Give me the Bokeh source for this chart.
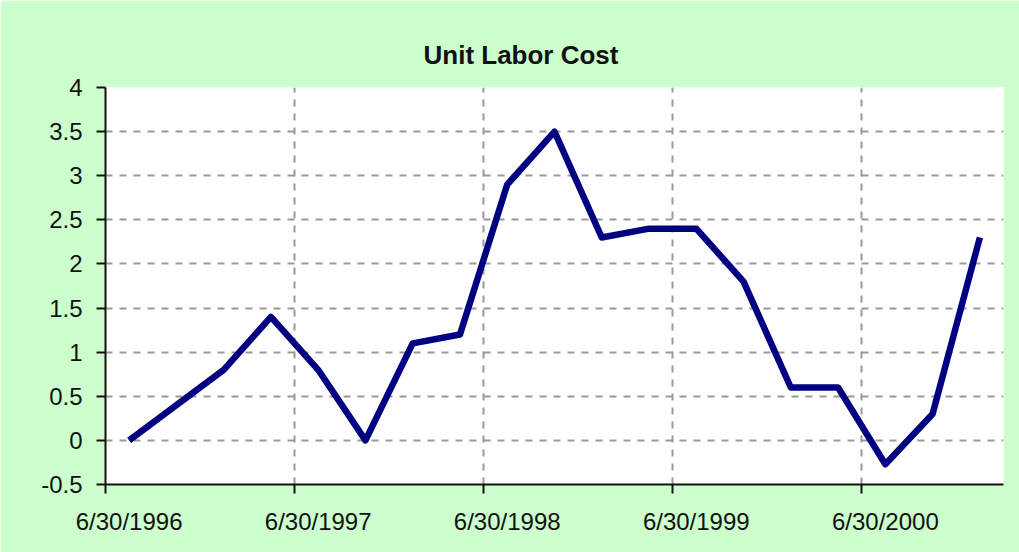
from bokeh.plotting import figure
from bokeh.models import Range1d, FixedTicker
from bokeh.embed import file_html
from bokeh.resources import INLINE
import numpy as np

# ---- data ----
quarters = ["6/30/1996", "9/30/1996", "12/31/1996",
            "3/31/1997", "6/30/1997", "9/30/1997", "12/31/1997",
            "3/31/1998", "6/30/1998", "9/30/1998", "12/31/1998",
            "3/31/1999", "6/30/1999", "9/30/1999", "12/31/1999",
            "3/31/2000", "6/30/2000", "9/30/2000", "12/31/2000"]
unit_labor_cost = [0.0, 0.4, 0.8, 1.4, 0.8, 0.0, 1.1, 1.2, 2.9, 3.5,
                   2.3, 2.4, 2.4, 1.8, 0.6, 0.6, -0.27, 0.3, 2.3]
y_ticks = [-0.5, 0, 0.5, 1, 1.5, 2, 2.5, 3, 3.5, 4]
y_tick_labels = ["-0.5", "0", "0.5", "1", "1.5", "2", "2.5", "3", "3.5", "4"]
title_text = "Unit Labor Cost"

n = len(quarters)
x = np.arange(n) + 0.5
label_idx = [i for i, q in enumerate(quarters) if q.startswith("6/30")]
label_pos = [i + 0.5 for i in label_idx]
boundary_pos = [float(i) for i in label_idx]

FONT = "Liberation Sans"
GRID = "#999999"

p = figure(width=1019, height=552, output_backend="svg", toolbar_location=None,
           x_range=Range1d(0, n), y_range=Range1d(y_ticks[0], y_ticks[-1]),
           min_border_left=105, min_border_right=16, min_border_top=87, min_border_bottom=68)
p.background_fill_color = "white"
p.border_fill_color = "#CCFFCC"
p.outline_line_color = None

# title
p.title.text = title_text
p.title.align = "left"
p.title.offset = 318
p.title.text_font = FONT
p.title.text_font_size = "26px"
p.title.text_font_style = "bold"
p.title.text_color = "#111111"
p.title.standoff = 36

# x axis
xa = p.xaxis[0]
xa.ticker = FixedTicker(ticks=label_pos, minor_ticks=boundary_pos)
xa.major_label_overrides = {pos: quarters[i] for pos, i in zip(label_pos, label_idx)}
xa.major_tick_out = 0
xa.major_tick_in = 0
xa.minor_tick_out = 9
xa.minor_tick_in = 0
xa.minor_tick_line_width = 2
xa.minor_tick_line_color = "#111111"
xa.axis_line_width = 2
xa.axis_line_color = "#111111"
xa.major_label_standoff = 14
xa.major_label_text_font = FONT
xa.major_label_text_font_size = "24px"
xa.major_label_text_color = "#111111"

# y axis
ya = p.yaxis[0]
ya.ticker = FixedTicker(ticks=y_ticks)
ya.major_label_overrides = {t: s for t, s in zip(y_ticks, y_tick_labels)}
ya.major_tick_out = 9
ya.major_tick_in = 0
ya.major_tick_line_width = 2
ya.major_tick_line_color = "#111111"
ya.minor_tick_line_color = None
ya.axis_line_width = 2
ya.axis_line_color = "#111111"
ya.major_label_standoff = 14
ya.major_label_text_font = FONT
ya.major_label_text_font_size = "24px"
ya.major_label_text_color = "#111111"

# grids
p.xgrid.grid_line_color = None
p.xgrid.minor_grid_line_color = GRID
p.xgrid.minor_grid_line_width = 2
p.xgrid.minor_grid_line_dash = "7 7"
p.ygrid.grid_line_color = GRID
p.ygrid.grid_line_width = 2
p.ygrid.grid_line_dash = "7 7"

# series
p.line(x, unit_labor_cost, line_color="#000080", line_width=6.5,
       line_join="round", line_cap="butt")

open("out.html", "w").write(file_html(p, INLINE))
